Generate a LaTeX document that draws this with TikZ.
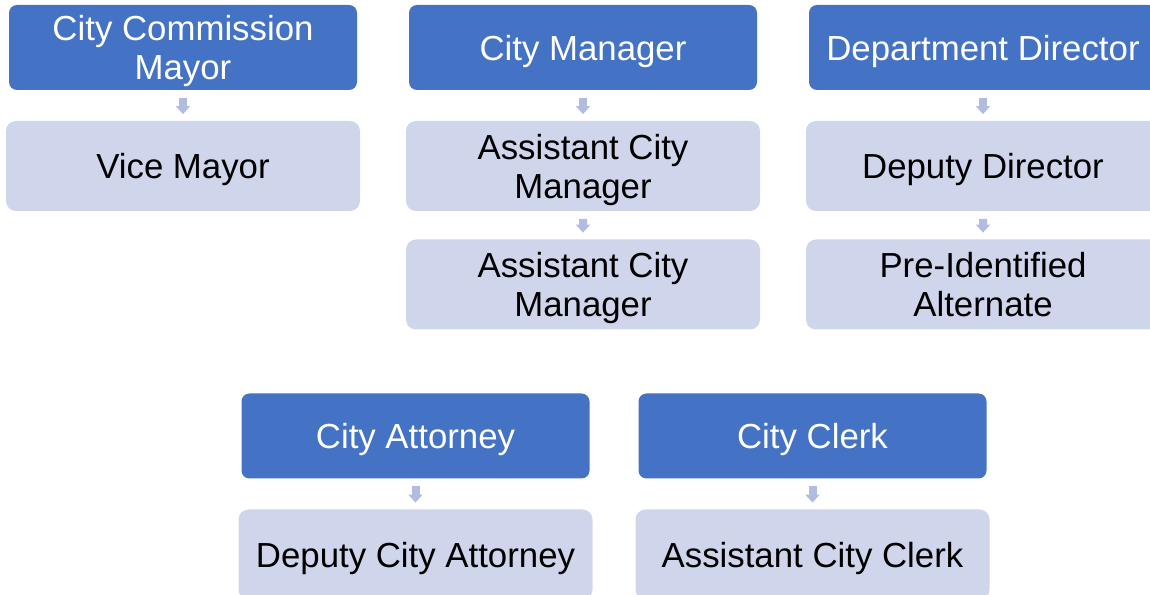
\documentclass[tikz,border=0pt]{standalone}
\usepackage{fontspec}
\setmainfont{Liberation Sans}
\usetikzlibrary{arrows.meta}
\definecolor{headblue}{HTML}{4472C4}
\definecolor{subblue}{HTML}{CFD5EA}
\definecolor{linkblue}{HTML}{AFBDE0}
\tikzset{
  box/.style={inner sep=0pt, align=center, text depth=0pt, font=\fontsize{17.4}{19.5}\selectfont},
  head/.style={box, fill=headblue, text=white, rounded corners=4pt, minimum width=174pt, minimum height=42.5pt},
  sub/.style={box, fill=subblue, text=black, rounded corners=5pt, minimum width=177pt, minimum height=45pt},
  link/.style={draw=linkblue, line width=4pt, shorten <=3.75pt, shorten >=3.25pt, -{Triangle[width=7pt,length=4pt]}}
}
\begin{document}
\begin{tikzpicture}[x=0.5pt, y=0.5pt, level distance=59.25pt, edge from parent/.style={link}]
    \useasboundingbox (0, 0) rectangle (1150, 594);
    \clip (0, 0) rectangle (1150, 594);
    \node[head] (mayor) at (183, 546.5) {City Commission\\Mayor}
      child {node[sub] (vicemayor) {Vice Mayor}};
    \node[head] (manager) at (583, 546.5) {City Manager}
      child {node[sub] (asstmgr1) {Assistant City\\Manager}
        child {node[sub] (asstmgr2) {Assistant City\\Manager}}};
    \node[head] (director) at (983, 546.5) {Department Director}
      child {node[sub] (deputy) {Deputy Director}
        child {node[sub] (alternate) {Pre-Identified\\Alternate}}};
    \node[head] (attorney) at (415.5, 158) {City Attorney}
      child {node[sub] (depattorney) {Deputy City Attorney}};
    \node[head] (clerk) at (812.5, 158) {City Clerk}
      child {node[sub] (asstclerk) {Assistant City Clerk}};
  \end{tikzpicture}
\end{document}
